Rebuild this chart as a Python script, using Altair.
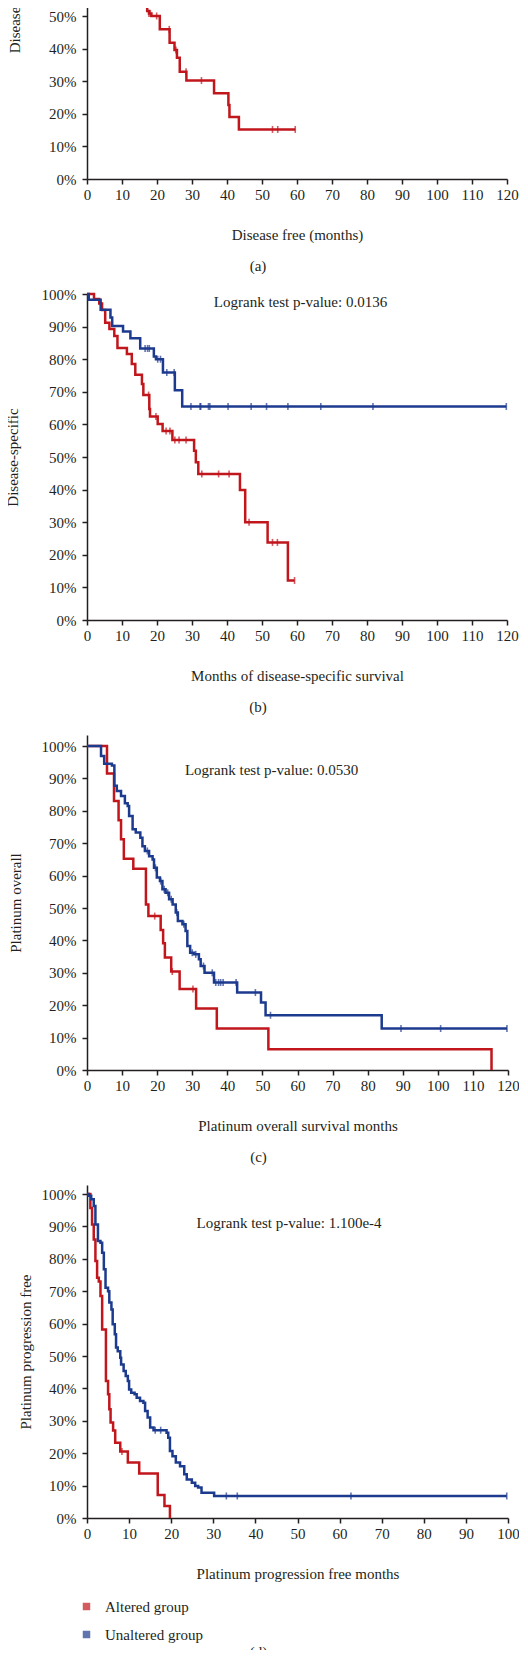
import altair as alt
import pandas as pd

RED = "#c0161c"
BLUE = "#1c3a8e"
GROUPS = ["Altered group", "Unaltered group"]
FONT = "Liberation Serif"
TXT = "#231f20"

# ---------------- panel (a): disease free ----------------
a_red_t = [17.2, 17.2, 17.7, 18.4, 20.8, 23.6, 25.0, 25.7, 26.5, 28.4, 36.3, 40.4, 40.7, 43.4, 59.5]
a_red_s = [0.60, 0.515, 0.508, 0.50, 0.459, 0.418, 0.396, 0.372, 0.329, 0.302, 0.263, 0.227, 0.19, 0.152, 0.152]
a_red_ct = [17.7, 18.1, 19.9, 23.5, 25.4, 28.3, 32.7, 53.0, 54.5, 59.5]
a_red_cs = [0.508, 0.508, 0.50, 0.459, 0.396, 0.329, 0.302, 0.152, 0.152, 0.152]
a_blue_t = []
a_blue_s = []
a_blue_ct = []
a_blue_cs = []

# ---------------- panel (b): disease-specific ----------------
b_red_t = [0, 2.0, 3.5, 4.3, 5.2, 6.4, 7.8, 8.7, 11.4, 12.8, 13.8, 15.7, 16.1, 17.8, 18.0, 20.2,
           21.6, 24.4, 30.6, 31.1, 31.8, 43.7, 45.2, 51.6, 57.4, 59.3]
b_red_s = [1.0, 0.985, 0.971, 0.951, 0.912, 0.893, 0.871, 0.834, 0.816, 0.785, 0.752, 0.724, 0.69,
           0.647, 0.624, 0.601, 0.58, 0.552, 0.519, 0.484, 0.448, 0.399, 0.30, 0.238, 0.121, 0.121]
b_red_ct = [17.6, 19.7, 22.6, 23.7, 25.1, 26.3, 28.3, 32.8, 37.6, 40.6, 46.3, 53.0, 54.4, 59.3]
b_red_cs = [0.69, 0.624, 0.58, 0.58, 0.552, 0.552, 0.552, 0.448, 0.448, 0.448, 0.30, 0.238, 0.238, 0.121]
b_blue_t = [0, 0.5, 3.9, 6.7, 7.2, 10.3, 12.4, 15.2, 19.1, 19.7, 21.7, 25.1, 27.2, 119.8]
b_blue_s = [1.0, 0.982, 0.952, 0.928, 0.902, 0.885, 0.864, 0.833, 0.808, 0.80, 0.759, 0.705, 0.655, 0.655]
b_blue_ct = [16.6, 17.3, 17.8, 20.2, 21.0, 22.8, 24.9, 29.7, 32.3, 32.5, 34.7, 35.1, 40.3, 46.9,
             51.3, 57.4, 66.8, 81.7, 119.8]
b_blue_cs = [0.833, 0.833, 0.833, 0.80, 0.80, 0.759, 0.759] + [0.655] * 12

# ---------------- panel (c): platinum overall ----------------
c_red_t = [0, 5.7, 7.7, 9.0, 9.7, 10.5, 13.2, 16.8, 17.5, 21.0, 21.7, 22.2, 24.0, 26.4, 31.1, 37.0, 51.7, 115.3]
c_red_s = [1.0, 0.915, 0.83, 0.771, 0.712, 0.652, 0.621, 0.511, 0.475, 0.432, 0.391, 0.347, 0.304,
           0.25, 0.19, 0.128, 0.064, 0.0]
c_red_ct = [19.3, 24.3, 30.2]
c_red_cs = [0.475, 0.304, 0.25]
c_blue_t = [0, 4.0, 4.9, 7.1, 7.8, 8.5, 9.7, 10.8, 11.6, 12.0, 13.0, 13.9, 15.2, 15.8, 16.5, 17.7,
            18.7, 19.1, 19.9, 20.8, 21.5, 22.4, 23.4, 24.4, 25.3, 25.9, 27.2, 28.1, 28.6, 29.4,
            30.5, 31.9, 32.4, 33.5, 36.2, 42.8, 49.6, 50.9, 84.0, 119.7]
c_blue_s = [1.0, 0.969, 0.945, 0.94, 0.877, 0.861, 0.846, 0.823, 0.815, 0.784, 0.743, 0.733, 0.717,
            0.691, 0.676, 0.66, 0.65, 0.624, 0.594, 0.583, 0.558, 0.547, 0.527, 0.511, 0.486, 0.46,
            0.45, 0.429, 0.383, 0.362, 0.357, 0.342, 0.321, 0.30, 0.27, 0.239, 0.208, 0.169, 0.128, 0.128]
c_blue_ct = [17.2, 19.5, 21.0, 22.0, 23.0, 24.0, 25.6, 27.6, 30.0, 31.0, 33.2, 35.7, 36.7, 37.5,
             38.1, 38.8, 42.5, 48.0, 52.3, 89.5, 100.8, 119.7]
c_blue_cs = [0.676, 0.624, 0.583, 0.558, 0.547, 0.527, 0.486, 0.45, 0.362, 0.357, 0.321, 0.30,
             0.27, 0.27, 0.27, 0.27, 0.27, 0.239, 0.169, 0.128, 0.128, 0.128]

# ---------------- panel (d): platinum progression free ----------------
d_red_t = [0, 0.8, 1.2, 1.6, 2.0, 2.4, 2.8, 3.2, 3.6, 4.5, 5.0, 5.3, 5.6, 6.2, 6.7, 7.9, 9.7,
           12.4, 16.8, 18.4, 19.7]
d_red_s = [1.0, 0.957, 0.906, 0.86, 0.793, 0.742, 0.73, 0.685, 0.582, 0.423, 0.382, 0.336, 0.295,
           0.27, 0.232, 0.205, 0.171, 0.137, 0.071, 0.037, 0.0]
d_red_ct = [8.3]
d_red_cs = [0.205]
d_blue_t = [0, 0.4, 1.0, 1.6, 2.0, 2.6, 3.2, 3.6, 4.0, 4.4, 5.0, 5.3, 5.8, 6.1, 6.6, 6.9, 7.3,
            7.9, 8.1, 8.7, 9.2, 9.7, 10.0, 10.5, 11.3, 11.8, 12.6, 13.4, 13.8, 14.4, 15.0, 15.8,
            18.9, 19.3, 19.7, 20.3, 21.1, 22.1, 23.1, 23.7, 24.9, 25.7, 26.4, 27.2, 30.2, 99.7]
d_blue_s = [1.0, 0.995, 0.984, 0.963, 0.906, 0.855, 0.85, 0.819, 0.768, 0.711, 0.70, 0.665, 0.644,
            0.598, 0.567, 0.526, 0.515, 0.495, 0.474, 0.454, 0.438, 0.423, 0.397, 0.387, 0.382,
            0.371, 0.361, 0.356, 0.33, 0.31, 0.279, 0.271, 0.263, 0.248, 0.207, 0.191, 0.171,
            0.16, 0.135, 0.119, 0.109, 0.099, 0.094, 0.078, 0.068, 0.068]
d_blue_ct = [16.2, 17.5, 33.1, 35.7, 62.7, 99.7]
d_blue_cs = [0.271, 0.271, 0.068, 0.068, 0.068, 0.068]

Y_TICKS = [0, 0.1, 0.2, 0.3, 0.4, 0.5, 0.6, 0.7, 0.8, 0.9, 1.0]


def one_df(ts, ss, group):
    return pd.DataFrame({"t": list(ts), "s": list(ss), "group": [group] * len(ts)},
                        columns=["t", "s", "group"])


def panel(red, blue, red_c, blue_c, xmax, ytop, width, height, xtitle, ytitle, ypad,
          label, label_offset, note=None):
    cscale = alt.Scale(domain=GROUPS, range=[RED, BLUE])
    x = alt.X("t:Q",
              scale=alt.Scale(domain=[0, xmax], nice=False, zero=True),
              axis=alt.Axis(values=list(range(0, xmax + 1, 10)), title=xtitle,
                            labelPadding=3, titlePadding=25,
                            labelFlush=False, labelOverlap=False))
    y = alt.Y("s:Q",
              scale=alt.Scale(domain=[0, ytop], nice=False, zero=True),
              axis=alt.Axis(values=Y_TICKS, format=".0%", title=ytitle, titlePadding=ypad,
                            labelPadding=6, labelFlush=False, labelOverlap=False))
    layers = []
    for (ts, ss), col, grp in ((red, RED, GROUPS[0]), (blue, BLUE, GROUPS[1])):
        if len(ts):
            layers.append(alt.Chart(one_df(ts, ss, grp)).mark_line(
                interpolate="step-after", strokeWidth=2.5, color=col
            ).encode(x=x, y=y))
    cdf = pd.concat([one_df(*red_c, GROUPS[0]), one_df(*blue_c, GROUPS[1])], ignore_index=True)
    layers.append(alt.Chart(cdf).mark_tick(
        orient="vertical", size=7, thickness=1.6
    ).encode(x=x, y=y, color=alt.Color(
        "group:N", scale=cscale,
        legend=alt.Legend(title=None, orient="none", legendX=-8, legendY=1746,
                          symbolType="square", symbolSize=56, symbolStrokeWidth=0,
                          labelFont=FONT, labelFontSize=15, labelColor=TXT,
                          rowPadding=12, labelOffset=11, padding=0))))
    if note is not None:
        ndf = pd.DataFrame({"t": [note[0]], "s": [note[1]], "label": [note[2]]})
        layers.append(alt.Chart(ndf).mark_text(
            font=FONT, fontSize=15, color=TXT, align="center", baseline="middle"
        ).encode(x=x, y=y, text="label:N"))
    return alt.layer(*layers).properties(
        width=width, height=height,
        title=alt.TitleParams(text=label, orient="bottom", anchor="middle", dx=-39,
                              offset=label_offset, font=FONT, fontSize=15,
                              fontWeight="normal", color=TXT))


pa = panel((a_red_t, a_red_s), (a_blue_t, a_blue_s), (a_red_ct, a_red_cs), (a_blue_ct, a_blue_cs),
           120, 1.0, 420, 326, "Disease free (months)", "Disease free", 19, "(a)", 16.5)
pb = panel((b_red_t, b_red_s), (b_blue_t, b_blue_s), (b_red_ct, b_red_cs), (b_blue_ct, b_blue_cs),
           120, 1.0, 420, 326, "Months of disease-specific survival", "Disease-specific", 21,
           "(b)", 16.5, note=(61, 0.975, "Logrank test p-value: 0.0136"))
pc = panel((c_red_t, c_red_s), (c_blue_t, c_blue_s), (c_red_ct, c_red_cs), (c_blue_ct, c_blue_cs),
           120, 1.034, 421, 335, "Platinum overall survival months", "Platinum overall", 18,
           "(c)", 16.5, note=(52.6, 0.926, "Logrank test p-value: 0.0530"))
pd_ = panel((d_red_t, d_red_s), (d_blue_t, d_blue_s), (d_red_ct, d_red_cs), (d_blue_ct, d_blue_cs),
            100, 1.028, 421, 333, "Platinum progression free months", "Platinum progression free", 8,
            "(d)", 64, note=(48, 0.91, "Logrank test p-value: 1.100e-4"))

chart = alt.vconcat(pa, pb, pc, pd_, spacing=115, bounds="flush").properties(
    padding={"left": -3, "top": -162, "right": -1, "bottom": -10}
).configure_view(stroke=None).configure_axis(
    labelFont=FONT, titleFont=FONT, labelFontSize=15, titleFontSize=15,
    titleFontWeight="normal", labelColor=TXT, titleColor=TXT,
    domainColor=TXT, tickColor=TXT, domainWidth=1.5, tickWidth=1.5, tickSize=5, grid=False
).configure_legend(labelFont=FONT)

chart.save("out.html", embed_options={"renderer": "svg", "actions": False})
